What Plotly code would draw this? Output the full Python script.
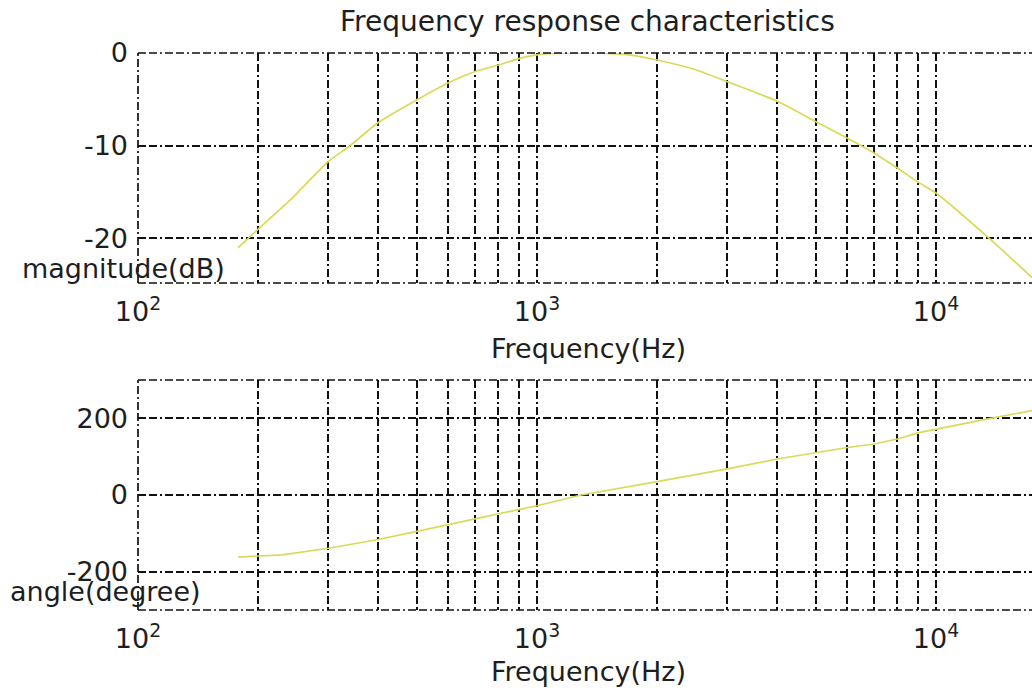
import plotly.graph_objects as go
import numpy as np

# ---- data ----
mag_freq = [178, 200, 240, 300, 340, 400, 500, 600, 700, 800, 900, 1000, 1100, 1270,
            1500, 1700, 2000, 2500, 3000, 4000, 5000, 6000, 7000, 8000, 9000, 10000,
            13600, 17400]
mag_db = [-21.0, -19.0, -15.9, -11.7, -10.0, -7.5, -5.05, -3.2, -2.0, -1.3, -0.6, -0.2,
          -0.05, 0.0, -0.03, -0.2, -0.75, -1.8, -3.1, -5.2, -7.4, -9.2, -10.8, -12.4,
          -13.9, -15.1, -20.0, -24.2]

ph_freq = [178, 200, 230, 300, 400, 500, 600, 700, 800, 900, 1000, 1290,
           2000, 3000, 4000, 5000, 6000, 7000, 8000, 9000, 10000, 13700, 17400]
ph_deg = [-162, -160, -156, -139, -116, -95, -77, -61, -48, -38, -28, 0,
          35, 68, 94, 111, 124, 133, 146, 162, 172, 200, 220]

decades = [100, 1000, 10000]
x_grid = [m * d for d in decades for m in range(1, 10)]
x_text = ["10<sup>%d</sup>" % int(round(np.log10(v))) if v in decades else "" for v in x_grid]

mag_ticks = [-20, -10, 0]
mag_text = ["-20", "-10", "0"]
ph_ticks = [-200, 0, 200]
ph_text = ["-200", "0", "200"]

x_range = [2, 4.2406]
mag_range = [-24.8, 0]
ph_range = [-300, 300]

title_text = "Frequency response characteristics"
xlabel = "Frequency(Hz)"
mag_label = "magnitude(dB)"
ph_label = "angle(degree)"

# ---- figure ----
W, H = 1032, 690
L = 138
FONT = "DejaVu Sans, Verdana, sans-serif"
TXT = "#1e1e1e"
GRID = "#111111"
DASH = "8px,3px,8px,3px,2px,3px"
CURVE = "#dada58"
FS = 27

fig = go.Figure()
fig.add_trace(go.Scatter(x=mag_freq, y=mag_db, mode="lines",
                         line=dict(color=CURVE, width=1.7, shape="spline", smoothing=0.6),
                         xaxis="x", yaxis="y", showlegend=False))
fig.add_trace(go.Scatter(x=ph_freq, y=ph_deg, mode="lines",
                         line=dict(color=CURVE, width=1.7),
                         xaxis="x2", yaxis="y2", showlegend=False))

def ypos(screen_y):
    return 1 - screen_y / H

def xpos(screen_x):
    # paper x is measured over the plot area (inside the margins)
    return (screen_x - L) / (W - L)

top_dom = [ypos(283), ypos(53)]
bot_dom = [ypos(610), ypos(380)]

xcommon = dict(type="log", range=x_range, tickvals=x_grid, ticktext=x_text,
               showgrid=True, gridcolor=GRID, griddash=DASH, gridwidth=1.7,
               showline=False, zeroline=False, ticks="", ticklabelstandoff=10,
               automargin=False,
               tickfont=dict(family=FONT, size=FS, color=TXT), domain=[0, 1])
ycommon = dict(showgrid=True, gridcolor=GRID, griddash=DASH, gridwidth=1.7,
               showline=False, zeroline=False, ticks="", ticklabelstandoff=9,
               automargin=False,
               tickfont=dict(family=FONT, size=FS, color=TXT))

fig.update_layout(
    width=W, height=H,
    margin=dict(l=L, r=0, t=0, b=0, autoexpand=False),
    paper_bgcolor="white", plot_bgcolor="white",
    xaxis=dict(**xcommon, anchor="y"),
    yaxis=dict(**ycommon, range=mag_range, tickvals=mag_ticks, ticktext=mag_text,
               domain=top_dom, anchor="x"),
    xaxis2=dict(**xcommon, anchor="y2"),
    yaxis2=dict(**ycommon, range=ph_range, tickvals=ph_ticks, ticktext=ph_text,
                domain=bot_dom, anchor="x2"),
)

# dashed box borders (left, top, bottom) for both panels
for xr, yr in (("x", "y"), ("x2", "y2")):
    xd, yd = xr + " domain", yr + " domain"
    for (x0, y0, x1, y1) in ((0, 0, 0, 1), (0, 1, 1, 1), (0, 0, 1, 0)):
        fig.add_shape(type="line", xref=xd, yref=yd, x0=x0, y0=y0, x1=x1, y1=y1,
                      line=dict(color=GRID, width=1.7, dash=DASH), layer="above")

def ann(text, sx, sy, xanchor="center", size=FS):
    fig.add_annotation(text=text, x=xpos(sx), y=ypos(sy), xref="paper", yref="paper",
                       xanchor=xanchor, yanchor="middle", showarrow=False,
                       font=dict(family=FONT, size=size, color=TXT))

ann(title_text, 587, 22, size=28)
ann(xlabel, 588, 348)
ann(xlabel, 588, 671)
ann(mag_label, 20, 268, xanchor="left")
ann(ph_label, 8, 591, xanchor="left")

fig.write_html("out.html", config={"displayModeBar": False},
               post_script="document.body.style.margin='0';"
                           "document.body.style.overflow='hidden';")
